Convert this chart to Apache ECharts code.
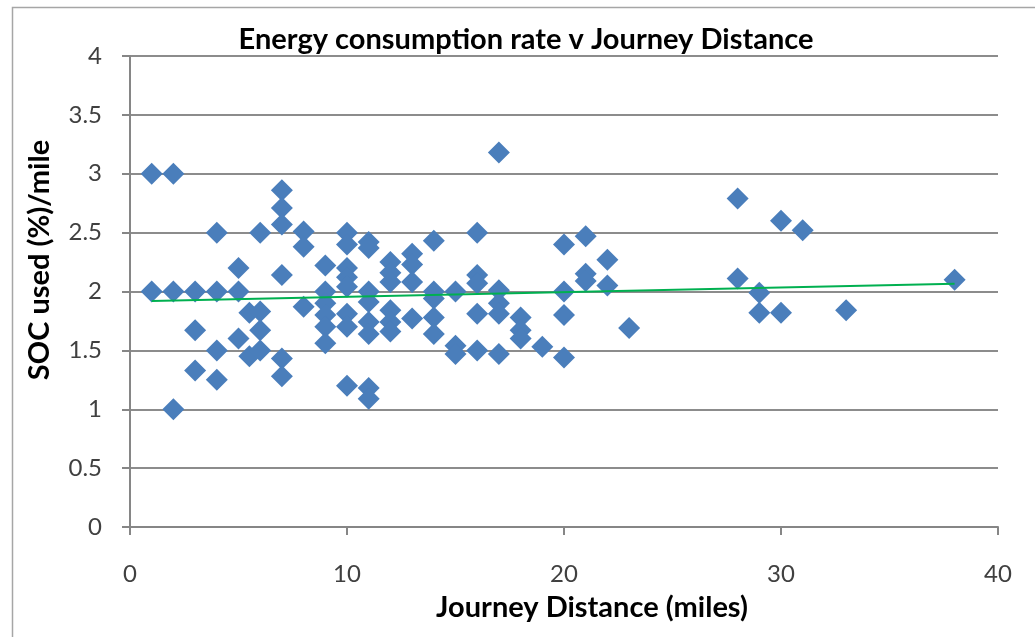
<!DOCTYPE html>
<html>
<head>
<meta charset="utf-8">
<script src="https://cdn.jsdelivr.net/npm/echarts@6/dist/echarts.min.js"></script>
<style>
html,body{margin:0;padding:0;background:#fff;}
#c{width:1035px;height:637px;}
</style>
</head>
<body>
<div id="c"></div>
<script>
// Journey distance (miles) for each journey
const distance = [
  1,1,
  2,2,2,
  3,3,3,
  4,4,4,4,
  5,5,5,
  5.5,5.5,
  6,6,6,6,
  7,7,7,7,7,7,
  8,8,8,
  9,9,9,9,9,9,
  10,10,10,10,10,10,10,10,
  11,11,11,11,11,11,11,11,
  12,12,12,12,12,12,
  13,13,13,13,
  14,14,14,14,14,
  15,15,15,
  16,16,16,16,16,
  17,17,17,17,17,
  18,18,18,
  19,
  20,20,20,20,
  21,21,21,
  22,22,
  23,
  28,28,
  29,29,
  30,30,
  31,
  33,
  38
];
// SOC used (%) per mile for each journey
const socUsed = [
  3.0,2.0,
  3.0,2.0,1.0,
  2.0,1.67,1.33,
  2.5,2.0,1.5,1.25,
  2.2,2.0,1.6,
  1.82,1.45,
  2.5,1.83,1.67,1.5,
  2.86,2.71,2.57,2.14,1.43,1.28,
  2.51,2.38,1.87,
  2.22,2.0,1.9,1.8,1.7,1.56,
  2.5,2.4,2.2,2.12,2.04,1.81,1.7,1.2,
  2.42,2.37,2.0,1.91,1.74,1.64,1.18,1.09,
  2.25,2.16,2.08,1.84,1.74,1.66,
  2.32,2.23,2.08,1.77,
  2.43,2.0,1.94,1.78,1.64,
  2.0,1.54,1.47,
  2.5,2.14,2.07,1.81,1.5,
  3.18,2.01,1.9,1.81,1.47,
  1.78,1.67,1.6,
  1.53,
  2.4,2.0,1.8,1.44,
  2.47,2.15,2.09,
  2.27,2.05,
  1.69,
  2.79,2.11,
  1.99,1.82,
  2.6,1.82,
  2.52,
  1.84,
  2.1
];
// Linear trendline end points
const trendX = [1, 38];
const trendY = [1.92, 2.065];

const xTicks = [0, 10, 20, 30, 40];
const yTicks = [0, 0.5, 1, 1.5, 2, 2.5, 3, 3.5, 4];

const titleText = 'Energy consumption rate v Journey Distance';
const xName = 'Journey Distance (miles)';
const yName = 'SOC used (%)/mile';

const points = distance.map((d, i) => [d, socUsed[i]]);
const trend = trendX.map((d, i) => [d, trendY[i]]);

const FONT = 'Lato, "Open Sans", "DejaVu Sans", sans-serif';
const chart = echarts.init(document.getElementById('c'));
chart.setOption({
  animation: false,
  backgroundColor: '#ffffff',
  grid: { left: 130, right: 37, top: 56, bottom: 110, containLabel: false },
  graphic: [
    { type: 'rect', shape: { x: 12.5, y: 7.5, width: 1200, height: 800 },
      style: { fill: 'none', stroke: '#a6a6a6', lineWidth: 1.5 }, silent: true, z: -10 },
    { type: 'text', x: 526, y: 40,
      style: { text: titleText, font: 'bold 29px ' + FONT, fill: '#000', align: 'center', verticalAlign: 'middle' } },
    { type: 'text', x: 592, y: 608,
      style: { text: xName, font: 'bold 29px ' + FONT, fill: '#000', align: 'center', verticalAlign: 'middle' } },
    { type: 'text', x: 40, y: 260, rotation: Math.PI / 2,
      style: { text: yName, font: 'bold 29px ' + FONT, fill: '#000', align: 'center', verticalAlign: 'middle' } }
  ],
  xAxis: {
    type: 'value', min: xTicks[0], max: xTicks[xTicks.length - 1], interval: 10,
    axisLine: { show: true, onZero: false, lineStyle: { color: '#868686', width: 2 } },
    axisTick: { show: true, inside: false, length: 8, lineStyle: { color: '#868686', width: 2 } },
    axisLabel: { margin: 35, fontSize: 24, fontFamily: FONT, color: '#404040' },
    splitLine: { show: false }
  },
  yAxis: {
    type: 'value', min: yTicks[0], max: yTicks[yTicks.length - 1], interval: 0.5,
    axisLine: { show: true, lineStyle: { color: '#868686', width: 2 } },
    axisTick: { show: true, inside: false, length: 8, lineStyle: { color: '#868686', width: 2 } },
    axisLabel: { margin: 28, fontSize: 24, fontFamily: FONT, color: '#404040' },
    splitLine: { show: true, lineStyle: { color: '#8c8c8c', width: 2 } }
  },
  series: [
    {
      type: 'scatter', data: points, symbol: 'diamond', symbolSize: [22, 22],
      itemStyle: { color: '#4a7ebb', opacity: 1 }, z: 3
    },
    {
      type: 'line', data: trend, showSymbol: false, symbol: 'none',
      lineStyle: { color: '#00b050', width: 2 }, z: 4, silent: true
    }
  ]
});
</script>
</body>
</html>
